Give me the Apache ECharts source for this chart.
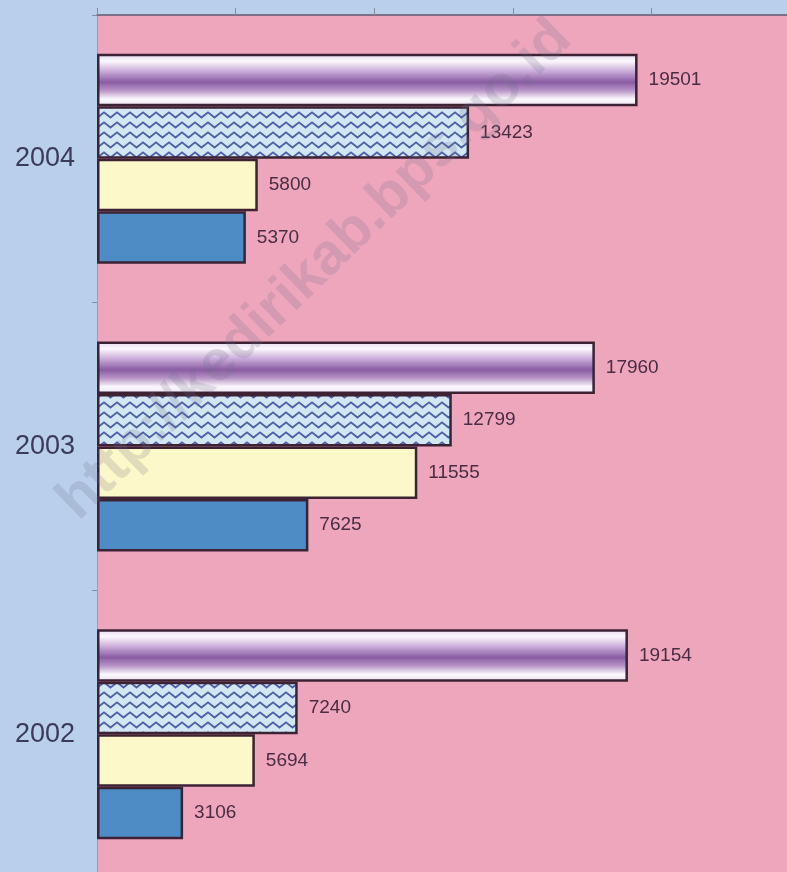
<!DOCTYPE html>
<html>
<head>
<meta charset="utf-8">
<script src="https://cdn.jsdelivr.net/npm/echarts@6/dist/echarts.min.js"></script>
<style>
  html, body { margin: 0; padding: 0; background: #bacfec; }
  #chart { width: 787px; height: 872px; }
</style>
</head>
<body>
<div id="chart"></div>
<script>
const years = ['2002', '2003', '2004']
const seriesA = [19154, 17960, 19501]
const seriesB = [7240, 12799, 13423]
const seriesC = [5694, 11555, 5800]
const seriesD = [3106, 7625, 5370]
const xTicks = [0, 5000, 10000, 15000, 20000, 25000]

// zigzag fill for the second series
const makeWave = () => {
  const c = document.createElement('canvas')
  c.width = 13
  c.height = 10
  const ctx = c.getContext('2d')
  ctx.fillStyle = '#d3e6f3'
  ctx.fillRect(0, 0, 13, 10)
  ctx.strokeStyle = '#4d5fa6'
  ctx.lineWidth = 1.9
  ctx.beginPath()
  ctx.moveTo(-1, 1.6)
  ctx.lineTo(6.5, 7.6)
  ctx.lineTo(14, 1.6)
  ctx.stroke()
  return c
}

const chart = echarts.init(document.getElementById('chart'))

const border = { borderColor: '#3d2234', borderWidth: 2.5 }
const label = {
  show: true,
  position: 'right',
  distance: 11,
  color: '#4a2c43',
  fontFamily: 'Liberation Sans',
  fontSize: 19
}

const purple = new echarts.graphic.LinearGradient(0, 0, 0, 1, [
  { offset: 0, color: '#e6d8ee' },
  { offset: 0.14, color: '#fbf7fc' },
  { offset: 0.32, color: '#cdb0da' },
  { offset: 0.54, color: '#8a5ca3' },
  { offset: 0.7, color: '#b895c8' },
  { offset: 0.86, color: '#fbf8fc' },
  { offset: 1, color: '#eee4f3' }
])

chart.setOption({
  backgroundColor: '#bacfec',
  animation: false,
  grid: {
    left: 97,
    top: 15,
    width: 693,
    height: 863,
    outerBoundsMode: 'none',
    containLabel: false,
    show: true,
    backgroundColor: '#eea6bc',
    borderWidth: 0
  },
  xAxis: {
    type: 'value',
    position: 'top',
    min: xTicks[0],
    max: xTicks[xTicks.length - 1],
    interval: 5000,
    axisLine: { show: true, lineStyle: { color: '#5e5a70', width: 1.5 } },
    axisTick: { show: true, length: 7, lineStyle: { color: '#8a8aa0' } },
    axisLabel: { show: false },
    splitLine: { show: false }
  },
  yAxis: {
    type: 'category',
    data: years,
    axisLine: { show: true, lineStyle: { color: '#8ea2c8', width: 1 } },
    axisTick: { show: true, length: 5, lineStyle: { color: '#7f8fb0' } },
    axisLabel: {
      color: '#3b3a58',
      fontFamily: 'Liberation Sans',
      fontSize: 27,
      margin: 22
    }
  },
  graphic: [{
    type: 'text',
    x: 315,
    y: 270,
    rotation: 0.77,
    style: {
      text: 'http://kedirikab.bps.go.id',
      fill: 'rgba(110,110,135,0.2)',
      font: 'bold 58px "Liberation Sans"',
      align: 'center',
      verticalAlign: 'middle'
    },
    z: 100
  }],
  series: [
    { name: 'A', type: 'bar', data: seriesA, barWidth: 52.5, barGap: '0%',
      itemStyle: { color: purple, ...border }, label },
    { name: 'B', type: 'bar', data: seriesB, barWidth: 52.5, barGap: '0%',
      itemStyle: { color: { image: makeWave(), repeat: 'repeat' }, ...border }, label },
    { name: 'C', type: 'bar', data: seriesC, barWidth: 52.5, barGap: '0%',
      itemStyle: { color: '#fdf8c9', ...border }, label },
    { name: 'D', type: 'bar', data: seriesD, barWidth: 52.5, barGap: '0%',
      itemStyle: { color: '#4e8cc6', ...border }, label }
  ]
})
</script>
</body>
</html>
